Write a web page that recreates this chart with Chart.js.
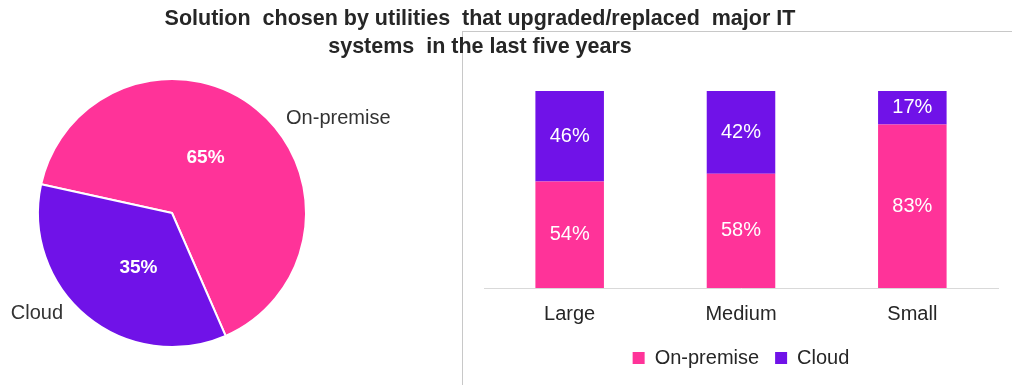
<!DOCTYPE html>
<html>
<head>
<meta charset="utf-8">
<script src="https://cdn.jsdelivr.net/npm/chart.js@4/dist/chart.umd.min.js"></script>
<style>
  body { margin: 0; background: #fff; }
  #wrap { position: relative; width: 1012px; height: 385px; overflow: hidden; font-family: "Liberation Sans", Arial, sans-serif; }
  #title { position: absolute; left: 0; top: 4px; width: 960px; text-align: center; font-weight: bold; font-size: 21.5px; line-height: 28px; color: #262626; white-space: pre; z-index: 2; }
  #panel { position: absolute; left: 462px; top: 31px; width: 560px; height: 400px; border-left: 1px solid #c8c8c8; border-top: 1px solid #c8c8c8; }
  #pieBox { position: absolute; left: 0; top: 0; width: 462px; height: 385px; }
  #barBox { position: absolute; left: 463px; top: 32px; width: 549px; height: 353px; }
</style>
</head>
<body>
<div id="wrap">
  <div id="panel"></div>
  <div id="title">Solution  chosen by utilities  that upgraded/replaced  major IT
systems  in the last five years</div>
  <div id="pieBox"><canvas id="chart0"></canvas></div>
  <div id="barBox"><canvas id="chart1"></canvas></div>
</div>
<script>
// data
const pieLabels = ["On-premise", "Cloud"];
const pieValues = [65, 35];

const barCategories = ["Large", "Medium", "Small"];
const onPremiseValues = [54, 58, 83];
const cloudValues = [46, 42, 17];

const PINK = "#ff3399";
const PURPLE = "#7012e8";
const FONT = "'Liberation Sans', Arial, sans-serif";

// labels for pie slices: value inside, name outside
const pieLabelPlugin = {
    id: "pieLabels",
    afterDatasetsDraw(chart, args, opts) {
        const ctx = chart.ctx;
        const meta = chart.getDatasetMeta(0);
        meta.data.forEach((arc, i) => {
            const p = arc.getProps(["x", "y", "startAngle", "endAngle", "outerRadius"], true);
            const mid = (p.startAngle + p.endAngle) / 2;
            const inA = mid + opts.innerShift[i] * Math.PI / 180;
            const outA = mid + opts.outerShift[i] * Math.PI / 180;
            ctx.save();
            ctx.fillStyle = "#fff";
            ctx.font = "bold 19px " + FONT;
            ctx.textAlign = "center";
            ctx.textBaseline = "middle";
            const ri = p.outerRadius * 0.48;
            ctx.fillText(chart.data.datasets[0].data[i] + "%", p.x + Math.cos(inA) * ri, p.y + Math.sin(inA) * ri);
            ctx.fillStyle = "#333";
            ctx.font = "20px " + FONT;
            const ro = p.outerRadius + 14;
            ctx.textAlign = Math.cos(outA) >= 0 ? "left" : "right";
            ctx.fillText(chart.data.labels[i], p.x + Math.cos(outA) * ro, p.y + Math.sin(outA) * ro);
            ctx.restore();
        });
    }
};

// values in the middle of each bar segment
const barLabelPlugin = {
    id: "barLabels",
    afterDatasetsDraw(chart) {
        const ctx = chart.ctx;
        ctx.save();
        ctx.fillStyle = "#fff";
        ctx.font = "20px " + FONT;
        ctx.textAlign = "center";
        ctx.textBaseline = "middle";
        chart.data.datasets.forEach((ds, di) => {
            chart.getDatasetMeta(di).data.forEach((bar, i) => {
                const p = bar.getProps(["x", "y", "base"], true);
                ctx.fillText(ds.data[i] + "%", p.x, (p.y + p.base) / 2);
            });
        });
        ctx.restore();
    }
};

window.charts = [];

function createCharts() {
    const pie = new Chart(document.getElementById("chart0").getContext("2d"), {
        type: "pie",
        data: {
            labels: pieLabels,
            datasets: [{
                data: pieValues,
                backgroundColor: [PINK, PURPLE],
                borderColor: "#fff",
                borderWidth: 2,
            }],
        },
        options: {
            responsive: true,
            maintainAspectRatio: false,
            animation: false,
            rotation: 282.4,
            layout: { padding: { left: 37, right: 155, top: 78, bottom: 37 } },
            plugins: {
                legend: { display: false },
                tooltip: { enabled: false },
                pieLabels: { innerShift: [-8, -8], outerShift: [11, 8] },
            },
        },
        plugins: [pieLabelPlugin],
    });
    window.charts.push(pie);

    const bar = new Chart(document.getElementById("chart1").getContext("2d"), {
        type: "bar",
        data: {
            labels: barCategories,
            datasets: [
                { label: "On-premise", data: onPremiseValues, backgroundColor: PINK, barPercentage: 0.4, categoryPercentage: 1 },
                { label: "Cloud", data: cloudValues, backgroundColor: PURPLE, barPercentage: 0.4, categoryPercentage: 1 },
            ],
        },
        options: {
            responsive: true,
            maintainAspectRatio: false,
            animation: false,
            layout: { padding: { left: 21, right: 14, top: 59, bottom: 7 } },
            scales: {
                x: {
                    stacked: true,
                    grid: { display: false },
                    border: { color: "#d9d9d9", width: 1 },
                    ticks: { color: "#262626", font: { size: 20, family: FONT }, padding: 6 },
                },
                y: {
                    stacked: true,
                    display: false,
                    min: 0,
                    max: 100,
                },
            },
            plugins: {
                tooltip: { enabled: false },
                legend: {
                    position: "bottom",
                    labels: {
                        color: "#262626",
                        font: { size: 20, family: FONT },
                        boxWidth: 12,
                        boxHeight: 12,
                        padding: 16,
                    },
                },
            },
        },
        plugins: [barLabelPlugin],
    });
    window.charts.push(bar);
}

createCharts();
</script>
</body>
</html>
